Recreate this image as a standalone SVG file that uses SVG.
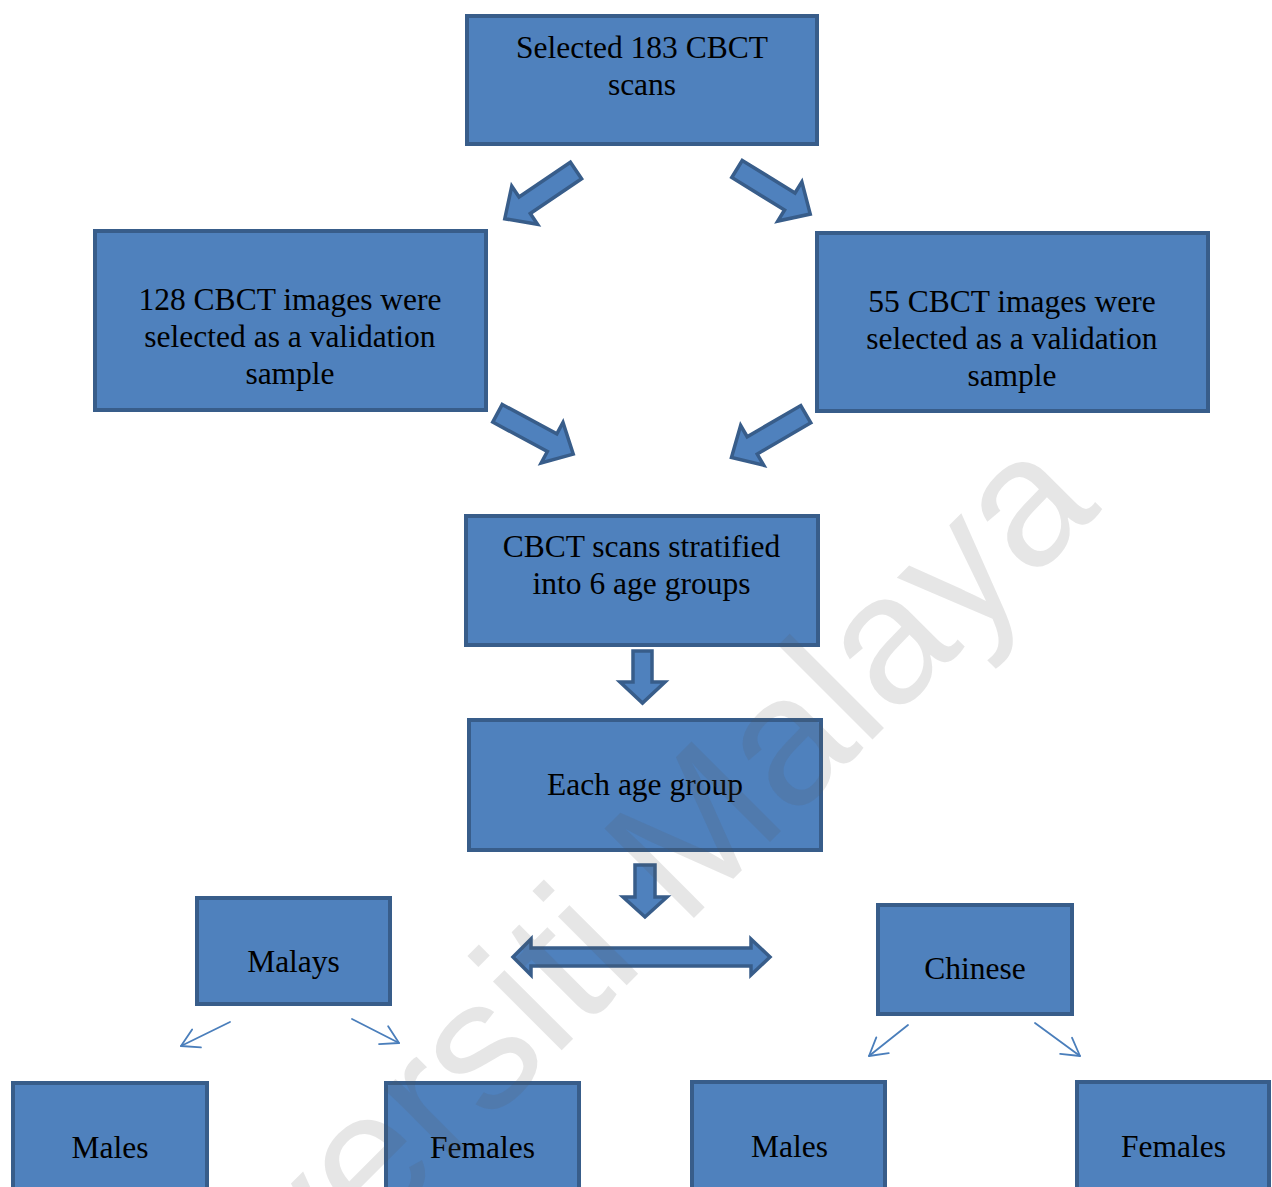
<svg xmlns="http://www.w3.org/2000/svg" width="1272" height="1187" viewBox="0 0 1272 1187">
  <style>
    .box { fill: #4f81bd; stroke: #385d8a; stroke-width: 4; }
    .fat { fill: #4f81bd; stroke: #385d8a; stroke-width: 3.5; stroke-linejoin: miter; }
    .thin { fill: none; stroke: #4a7ebb; stroke-width: 1.8; stroke-linecap: round; }
    .label { font-family: "Liberation Serif", "Times New Roman", serif; font-size: 31.5px; fill: #000; text-anchor: middle; }
    .mark { font-family: "Liberation Sans", Arial, sans-serif; font-size: 184px; fill: #5a5a5a; fill-opacity: 0.15; }
  </style>
  <defs>
    <!-- block arrow pointing along +x, tail at origin -->
    <path id="fatArrow" d="M0,-10 H62 V-23 L86,0 L62,23 V10 H0 Z"/>
    <marker id="vHead" markerUnits="userSpaceOnUse" viewBox="-20 -12 22 24" refX="0" refY="0" markerWidth="22" markerHeight="24" orient="auto">
      <path d="M-17.3,-10 L0,0 L-17.3,10" fill="none" stroke="#4a7ebb" stroke-width="1.8" stroke-linecap="round" stroke-linejoin="round"/>
    </marker>
  </defs>

  <rect width="1272" height="1187" fill="#ffffff"/>

  <g id="connectors">
    <use href="#fatArrow" class="fat" transform="translate(576,170.5) rotate(145.9)"/>
    <use href="#fatArrow" class="fat" transform="translate(737,169) rotate(31.6)"/>
    <use href="#fatArrow" class="fat" transform="translate(497.5,413.3) rotate(28.3)"/>
    <use href="#fatArrow" class="fat" transform="translate(805.8,414.2) rotate(149.8)"/>
    <polygon class="fat" points="633,651 652,651 652,682 665,682 642.5,703 620,682 633,682"/>
    <polygon class="fat" points="635,865 655,865 655,897 667,897 645,917 623,897 635,897"/>
    <polygon class="fat" points="513,957 531,939 531,948 751,948 751,939 770,957 751,975 751,966 531,966 531,975"/>
    <line class="thin" x1="230" y1="1022" x2="181" y2="1046" marker-end="url(#vHead)"/>
    <line class="thin" x1="352" y1="1019" x2="399" y2="1043" marker-end="url(#vHead)"/>
    <line class="thin" x1="908" y1="1025" x2="869" y2="1056" marker-end="url(#vHead)"/>
    <line class="thin" x1="1035" y1="1023" x2="1080" y2="1056" marker-end="url(#vHead)"/>
  </g>

  <g id="node-selected">
    <rect class="box" x="467" y="16" width="350" height="128"/>
    <text class="label" x="642" y="58">Selected 183 CBCT</text>
    <text class="label" x="642" y="95">scans</text>
  </g>
  <g id="node-128">
    <rect class="box" x="95" y="231" width="391" height="179"/>
    <text class="label" x="290" y="310">128 CBCT images were</text>
    <text class="label" x="290" y="347">selected as a validation</text>
    <text class="label" x="290" y="384">sample</text>
  </g>
  <g id="node-55">
    <rect class="box" x="817" y="233" width="391" height="178"/>
    <text class="label" x="1012" y="312">55 CBCT images were</text>
    <text class="label" x="1012" y="349">selected as a validation</text>
    <text class="label" x="1012" y="386">sample</text>
  </g>
  <g id="node-stratified">
    <rect class="box" x="466" y="516" width="352" height="129"/>
    <text class="label" x="641.5" y="557">CBCT scans stratified</text>
    <text class="label" x="641.5" y="594">into 6 age groups</text>
  </g>
  <g id="node-each">
    <rect class="box" x="469" y="720" width="352" height="130"/>
    <text class="label" x="645" y="795">Each age group</text>
  </g>
  <g id="node-malays">
    <rect class="box" x="197" y="898" width="193" height="106"/>
    <text class="label" x="293.5" y="972">Malays</text>
  </g>
  <g id="node-chinese">
    <rect class="box" x="878" y="905" width="194" height="109"/>
    <text class="label" x="975" y="979">Chinese</text>
  </g>
  <g id="node-males-1">
    <rect class="box" x="13" y="1083" width="194" height="120"/>
    <text class="label" x="110" y="1158">Males</text>
  </g>
  <g id="node-females-1">
    <rect class="box" x="386" y="1083" width="193" height="120"/>
    <text class="label" x="482.5" y="1158">Females</text>
  </g>
  <g id="node-males-2">
    <rect class="box" x="692" y="1082" width="193" height="120"/>
    <text class="label" x="789.5" y="1157">Males</text>
  </g>
  <g id="node-females-2">
    <rect class="box" x="1077" y="1082" width="192" height="120"/>
    <text class="label" x="1173.5" y="1157">Females</text>
  </g>

  <!-- faint diagonal watermark across the lower half -->
  <text class="mark" transform="translate(112,1500) rotate(-45)">Universiti Malaya</text>
</svg>
